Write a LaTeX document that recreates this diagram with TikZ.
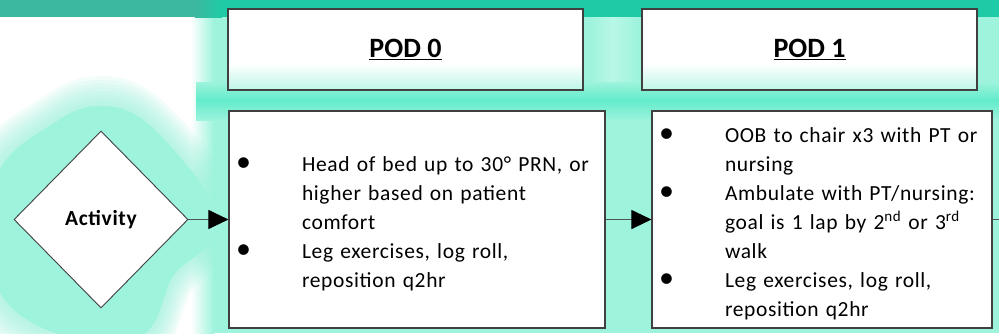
\documentclass[tikz,border=0pt]{standalone}
\usepackage{fontspec}
\setmainfont{Carlito}
\newfontfamily\bodyfont[LetterSpace=3]{Carlito}
\usetikzlibrary{shapes.geometric,arrows.meta}
\definecolor{mint}{HTML}{9DF3DC}
\definecolor{brightmint}{HTML}{62ECCB}
\definecolor{palemint}{HTML}{B8F7E6}
\definecolor{lightmint}{HTML}{BFF6E8}
\definecolor{stripR}{HTML}{1FCBA6}
\definecolor{stripL}{HTML}{3BB89F}
\definecolor{edge}{HTML}{404040}
\newcommand\bul{\makebox[67pt][l]{\hspace{1pt}{\fontsize{30}{29}\selectfont\textbullet}}}
\newcommand\lowered[1]{\raisebox{-4pt}[\height][\depth]{#1}}
\tikzset{
  box/.style={draw=edge, line width=1.1pt, rectangle, inner sep=0pt},
  headbox/.style={box, minimum height=81pt,
    font=\fontsize{28}{32}\selectfont\bfseries},
  bodybox/.style={box, fill=white, minimum height=217pt, align=left, inner xsep=6pt,
    font=\fontsize{21.5}{29}\bodyfont},
  decision/.style={diamond, draw=edge, line width=0.9pt, fill=white, inner sep=0pt,
    minimum width=174pt, minimum height=177pt,
    font=\fontsize{21.5}{26}\bodyfont\bfseries},
  conn/.style={draw=edge!90, line width=1pt, -{Triangle[length=20pt,width=19pt,color=black]}},
  plainline/.style={draw=edge!90, line width=1pt}
}
\begin{document}
\begin{tikzpicture}[x=1pt,y=-1pt]
\useasboundingbox (0,0) rectangle (999,333);
% background
\fill[mint] (0,0) rectangle (999,333);
\fill[white] (0,17) rectangle (192,333);
\shade[left color=white,right color=mint] (191,17) rectangle (214,333);
% pale strip between the headers
\shade[left color=mint,right color=mint,middle color=palemint] (588,17) rectangle (638,92);
% bright band under the headers
\foreach \i [evaluate=\i as \p using int(\i*100/18)] in {0,...,18}
  \fill[brightmint!\p!mint] (196,82+\i) rectangle (999,83.3+\i);
\foreach \i [evaluate=\i as \p using int(100-\i*5)] in {0,...,20}
  \fill[brightmint!\p!mint] (196,100+\i) rectangle (999,101.3+\i);
% halo round the decision
\def\halopath{plot[smooth cycle,tension=0.6] coordinates {(100,96) (145,110) (198,165) (218,200) (218,245) (180,280) (146,345) (57,345) (-12,292) (-12,172) (54,112)}}
\foreach \s in {1.16,1.13,...,0.93}
  \fill[mint,opacity=0.13,scale around={\s:(101,219.5)}] \halopath;
\fill[mint,scale around={0.92:(101,219.5)}] \halopath;
% top strip
\fill[stripR] (0,0) rectangle (999,17);
\fill[stripL] (0,0) rectangle (196,17);
\shade[left color=stripL,right color=stripR] (195,0) rectangle (222,17);
% header backgrounds with their soft lower edge
\foreach \xa/\xb in {228/583,642/977}{
  \fill[white] (\xa,9) rectangle (\xb,90);
  \foreach \i [evaluate=\i as \p using int(\i*100/26)] in {0,...,26}
    \fill[lightmint!\p!white] (\xa,63+\i) rectangle (\xb,64.3+\i);
}
% headers
\node[headbox, minimum width=355pt] (h0) at (405.5,49.5) {\underline{POD 0}};
\node[headbox, minimum width=335pt] (h1) at (809.5,49.5) {\underline{POD 1}};
% decision
\node[decision] (act) at (101,219.5) {Activity};
% content boxes
\node[bodybox, minimum width=376pt, text width=364pt] (b0) at (417,219.5) {\lowered{%
\begin{tabular}{@{}l@{}l@{}}
\bul & Head of bed up to 30° PRN, or\\
 & higher based on patient\\
 & comfort\\
\bul & Leg exercises, log roll,\\
 & reposition q2hr
\end{tabular}}};
\node[bodybox, minimum width=340pt, text width=328pt] (b1) at (822,219.5) {\lowered{%
\begin{tabular}{@{}l@{}l@{}}
\bul & OOB to chair x3 with PT or\\
 & nursing\\
\bul & Ambulate with PT/nursing:\\
 & goal is 1 lap by 2\textsuperscript{nd} or 3\textsuperscript{rd}\\
 & walk\\
\bul & Leg exercises, log roll,\\
 & reposition q2hr
\end{tabular}}};
% connectors
\coordinate (out) at (999,219.5);
\draw[conn] (act.east) -- (b0.west);
\draw[conn] (b0.east) -- (b1.west);
\draw[plainline] (b1.east) -- (out);
\end{tikzpicture}
\end{document}
